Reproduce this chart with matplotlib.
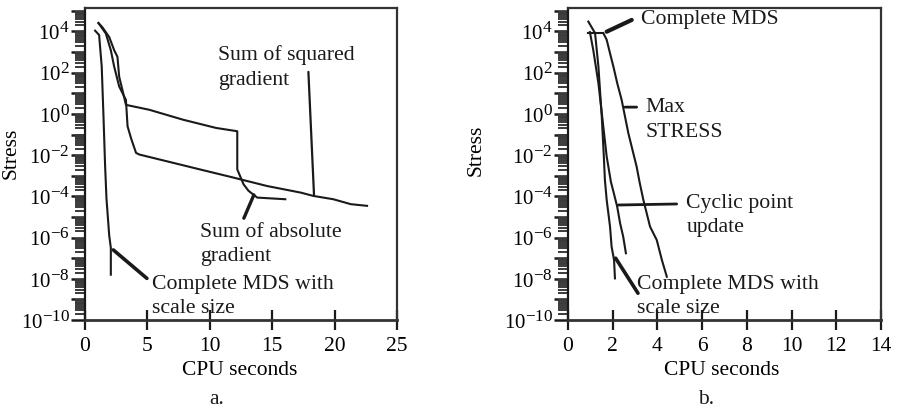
import numpy as np
import matplotlib
matplotlib.use("Agg")
import matplotlib.pyplot as plt
from matplotlib.ticker import LogLocator, FuncFormatter, FixedLocator
try:
    import matplotlib._mathtext as _mt
    _mt.SHRINK_FACTOR = 0.82
except Exception:
    pass

plt.rcParams['font.family'] = ['Liberation Serif', 'DejaVu Serif']
plt.rcParams['mathtext.fontset'] = 'custom'
plt.rcParams['mathtext.rm'] = 'Liberation Serif'
plt.rcParams['mathtext.it'] = 'Liberation Serif:italic'
plt.rcParams['mathtext.bf'] = 'Liberation Serif:bold'

INK = '#1a1a1a'

# ---------------- Panel a data (CPU seconds, log10 stress) ----------------
a_scale_t = [0.81, 1.13, 1.34, 1.48, 1.61, 1.72, 1.80, 1.94, 2.07, 2.07]
a_scale_v = [4.04, 3.83, 2.30, -0.10, -2.50, -4.10, -4.76, -5.90, -6.50, -7.80]

a_abs_t = [1.08, 1.40, 1.94, 2.34, 2.60, 2.74, 3.00, 3.28, 5.16, 7.85, 10.5, 12.2, 12.2, 12.7, 13.1, 13.8, 16.05]
a_abs_v = [4.41, 4.20, 3.73, 3.09, 2.77, 1.80, 1.16, 0.44, 0.20, -0.28, -0.68, -0.84, -2.69, -3.41, -3.73, -4.06, -4.14]

a_sq_t = [1.08, 1.67, 2.07, 2.34, 2.74, 3.28, 3.41, 3.70, 4.09, 4.35, 6.5, 9.19, 11.9, 14.6, 17.3, 18.3, 19.9, 21.3, 22.6]
a_sq_v = [4.41, 3.90, 3.09, 2.29, 1.33, 0.68, -0.60, -1.20, -1.89, -1.97, -2.29, -2.69, -3.09, -3.50, -3.82, -3.98, -4.14, -4.38, -4.46]

# ---------------- Panel b data ----------------
b_full_t = [0.91, 1.58]
b_full_v = [3.92, 3.92]

b_max_t = [1.58, 1.73, 1.88, 2.03, 2.20, 2.40, 2.70, 3.07, 3.20, 3.37, 3.67, 3.97, 4.20, 4.42]
b_max_v = [3.92, 3.60, 2.94, 2.30, 1.50, 0.68, -0.94, -2.56, -3.30, -4.17, -5.47, -6.12, -7.09, -7.90]

b_cyc_t = [0.98, 1.13, 1.36, 1.58, 1.73, 1.92, 2.05, 2.20, 2.33, 2.47, 2.59]
b_cyc_v = [3.97, 3.10, 1.49, -0.62, -2.07, -3.30, -3.85, -4.50, -5.30, -5.96, -6.76]

b_scale_t = [0.91, 1.21, 1.36, 1.51, 1.60, 1.65, 1.73, 1.88, 1.95, 2.06, 2.10]
b_scale_v = [4.48, 3.92, 2.30, -0.13, -2.00, -3.20, -4.17, -5.47, -6.44, -7.09, -7.98]

a_xticks = [0, 5, 10, 15, 20, 25]
b_xticks = [0, 2, 4, 6, 8, 10, 12, 14]

fig = plt.figure(figsize=(9.03, 4.09), dpi=100)
axa = fig.add_axes([85/903, 1-320/409, 312/903, 312/409])
axb = fig.add_axes([568/903, 1-320/409, 313/903, 312/409])


def pw(v):
    return [10.0 ** x for x in v]


def fmt(y, pos):
    e = int(round(np.log10(y)))
    if e % 2 == 0:
        return r'$\mathregular{10^{%d}}$' % e
    return ''


def style(ax, xmax, xticks):
    ax.set_yscale('log')
    ax.set_ylim(1e-10, 10 ** 5.14)
    ax.set_xlim(0, xmax)
    ax.xaxis.set_major_locator(FixedLocator(xticks))
    ax.yaxis.set_major_locator(FixedLocator([10.0 ** e for e in range(-10, 6)]))
    ax.yaxis.set_minor_locator(LogLocator(base=10, subs=np.arange(2, 10), numticks=40))
    ax.yaxis.set_major_formatter(FuncFormatter(fmt))
    ax.tick_params(axis='y', which='major', direction='out', length=10, width=1.8,
                   color=INK, labelsize=15, pad=1)
    ax.tick_params(axis='y', which='minor', direction='out', length=7, width=1.4, color='#3a3a3a')
    ax.tick_params(axis='x', which='major', direction='inout', length=14, width=1.6,
                   color=INK, labelsize=15.5, pad=5)
    ax.tick_params(axis='x', which='minor', bottom=False)
    for s in ['top', 'right']:
        ax.spines[s].set_linewidth(1.6)
        ax.spines[s].set_color('#333333')
    ax.spines['left'].set_linewidth(1.6)
    ax.spines['bottom'].set_linewidth(2.0)
    ax.spines['left'].set_color(INK)
    ax.spines['bottom'].set_color('#333333')
    ax.set_xlabel('CPU seconds', fontsize=15.5)
    ax.set_ylabel('Stress', fontsize=15.5)


style(axa, 25, a_xticks)
style(axb, 14, b_xticks)

lw = 1.5
axa.plot(a_scale_t, pw(a_scale_v), color=INK, lw=lw)
axa.plot(a_abs_t, pw(a_abs_v), color=INK, lw=lw)
axa.plot(a_sq_t, pw(a_sq_v), color=INK, lw=lw)

axb.plot(b_full_t, pw(b_full_v), color=INK, lw=lw)
axb.plot(b_max_t, pw(b_max_v), color=INK, lw=lw)
axb.plot(b_cyc_t, pw(b_cyc_v), color=INK, lw=lw)
axb.plot(b_scale_t, pw(b_scale_v), color=INK, lw=lw)

axa.xaxis.set_label_coords(0.497, -0.13)
axa.yaxis.set_label_coords(-0.205, 0.535)
axb.xaxis.set_label_coords(0.49, -0.13)
axb.yaxis.set_label_coords(-0.262, 0.545)


def pointer(ax, p0, p1, w):
    ax.annotate('', xy=(p1[0], 10 ** p1[1]), xytext=(p0[0], 10 ** p0[1]),
                arrowprops=dict(arrowstyle='-', color=INK, lw=w, shrinkA=0, shrinkB=0))


def label(ax, x, y, s):
    ax.text(x, y, s, transform=ax.transAxes, ha='left', va='top', fontsize=15.7,
            color=INK, linespacing=1.38)


# panel a annotations
pointer(axa, (17.9, 2.04), (18.35, -3.93), 1.6)
label(axa, 0.426, 0.88, 'Sum of squared\ngradient')
pointer(axa, (12.73, -5.06), (13.53, -3.93), 2.4)
label(axa, 0.369, 0.312, 'Sum of absolute\ngradient')
pointer(axa, (2.27, -6.6), (4.96, -7.98), 2.6)
label(axa, 0.215, 0.145, 'Complete MDS with\nscale size')

# panel b annotations
pointer(axb, (2.85, 4.56), (1.73, 3.99), 3.0)
label(axb, 0.233, 0.995, 'Complete MDS')
pointer(axb, (2.55, 0.33), (3.07, 0.33), 2.0)
label(axb, 0.248, 0.71, 'Max\nSTRESS')
pointer(axb, (2.25, -4.42), (4.86, -4.37), 2.0)
label(axb, 0.378, 0.405, 'Cyclic point\nupdate')
pointer(axb, (2.13, -7.0), (3.13, -8.7), 2.6)
label(axb, 0.22, 0.145, 'Complete MDS with\nscale size')

fig.text(217/903, 1-399/409, 'a.', ha='center', va='center', fontsize=15.5, color=INK)
fig.text(706/903, 1-399/409, 'b.', ha='center', va='center', fontsize=15.5, color=INK)

fig.savefig('out.png', dpi=100, facecolor='white')
